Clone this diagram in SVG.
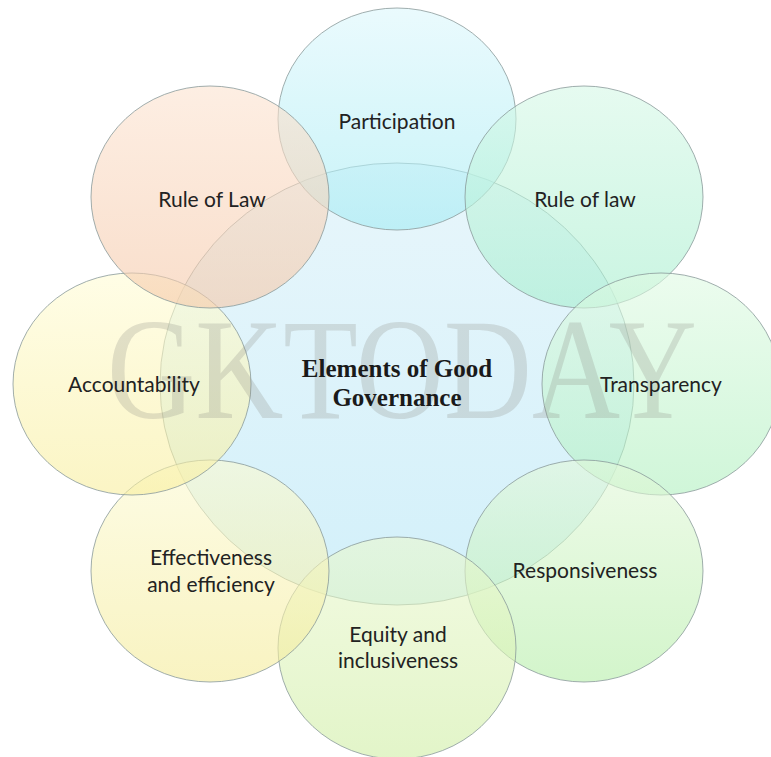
<svg xmlns="http://www.w3.org/2000/svg" width="771" height="757" viewBox="0 0 771 757">
<defs>
<linearGradient id="gC" x1="0" y1="0" x2="0" y2="1"><stop offset="0" stop-color="#e8f6fb"/><stop offset="1" stop-color="#d2f0fa"/></linearGradient>
<linearGradient id="g1" x1="0" y1="0" x2="0" y2="1"><stop offset="0" stop-color="#dcf7fc"/><stop offset="1" stop-color="#a3ebf3"/></linearGradient>
<linearGradient id="g2" x1="0" y1="0" x2="0" y2="1"><stop offset="0" stop-color="#d5f8e6"/><stop offset="1" stop-color="#a6eece"/></linearGradient>
<linearGradient id="g3" x1="0" y1="0" x2="0" y2="1"><stop offset="0" stop-color="#dffae3"/><stop offset="1" stop-color="#b0f0bf"/></linearGradient>
<linearGradient id="g4" x1="0" y1="0" x2="0" y2="1"><stop offset="0" stop-color="#e3f8da"/><stop offset="1" stop-color="#b5eea8"/></linearGradient>
<linearGradient id="g5" x1="0" y1="0" x2="0" y2="1"><stop offset="0" stop-color="#ebf8cf"/><stop offset="1" stop-color="#cfeea4"/></linearGradient>
<linearGradient id="g6" x1="0" y1="0" x2="0" y2="1"><stop offset="0" stop-color="#fcfad2"/><stop offset="1" stop-color="#f4eb98"/></linearGradient>
<linearGradient id="g7" x1="0" y1="0" x2="0" y2="1"><stop offset="0" stop-color="#fffcd5"/><stop offset="1" stop-color="#f8ee9d"/></linearGradient>
<linearGradient id="g8" x1="0" y1="0" x2="0" y2="1"><stop offset="0" stop-color="#fce3d0"/><stop offset="1" stop-color="#f5c8a8"/></linearGradient>
</defs>
<style>
.c{stroke:#8a9a9a;stroke-width:1;stroke-opacity:0.8}
.o{fill-opacity:0.6}
.l{font-family:Lato,"Liberation Sans",sans-serif;font-size:21px;fill:#222222;text-anchor:middle}
.m{font-family:"Liberation Serif",serif;font-weight:bold;font-size:25px;fill:#1a1a1a;text-anchor:middle}
.w{font-family:"Liberation Serif",serif;font-size:143px;fill:#8a8a82;fill-opacity:0.25}
</style>
<rect width="771" height="757" fill="#ffffff"/>
<g id="center"><ellipse class="c" cx="397" cy="384" rx="237" ry="221" fill="url(#gC)"/></g>
<g id="participation"><ellipse class="c o" cx="397" cy="119" rx="119" ry="111" fill="url(#g1)"/></g>
<g id="rule-of-law-right"><ellipse class="c o" cx="584" cy="197" rx="119" ry="111" fill="url(#g2)"/></g>
<g id="transparency"><ellipse class="c o" cx="661" cy="384" rx="119" ry="111" fill="url(#g3)"/></g>
<g id="responsiveness"><ellipse class="c o" cx="584" cy="571" rx="119" ry="111" fill="url(#g4)"/></g>
<g id="equity"><ellipse class="c o" cx="397" cy="648" rx="119" ry="111" fill="url(#g5)"/></g>
<g id="effectiveness"><ellipse class="c o" cx="210" cy="571" rx="119" ry="111" fill="url(#g6)"/></g>
<g id="accountability"><ellipse class="c o" cx="132" cy="384" rx="119" ry="111" fill="url(#g7)"/></g>
<g id="rule-of-law-left"><ellipse class="c o" cx="210" cy="197" rx="119" ry="111" fill="url(#g8)"/></g>
<text class="w" x="107" y="418" textLength="590" lengthAdjust="spacingAndGlyphs">GKTODAY</text>
<g id="connectors"></g>
<g id="labels">
<text class="m" x="397" y="377">Elements of Good</text>
<text class="m" x="397" y="406">Governance</text>
<text class="l" x="397" y="129">Participation</text>
<text class="l" x="585" y="207">Rule of law</text>
<text class="l" x="661" y="392">Transparency</text>
<text class="l" x="585" y="578">Responsiveness</text>
<text class="l" x="398" y="642">Equity and</text>
<text class="l" x="398" y="668">inclusiveness</text>
<text class="l" x="211" y="565">Effectiveness</text>
<text class="l" x="211" y="592">and efficiency</text>
<text class="l" x="134" y="392">Accountability</text>
<text class="l" x="212" y="207">Rule of Law</text>
</g>
</svg>
